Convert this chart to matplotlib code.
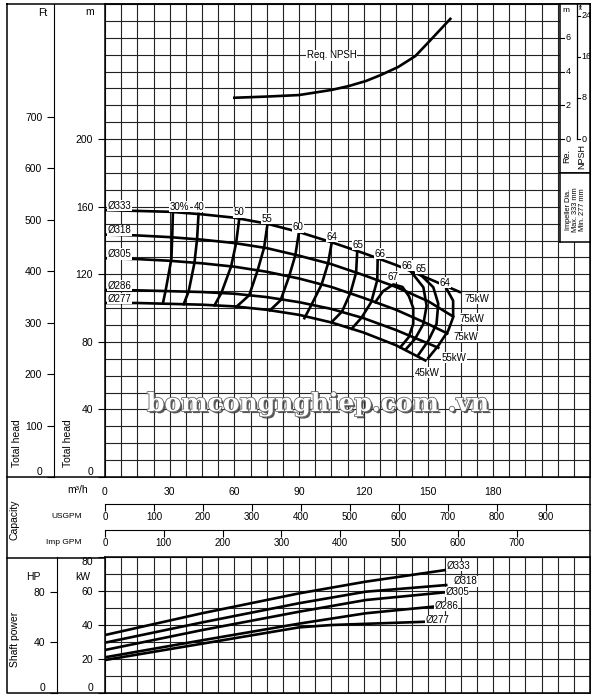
import numpy as np
import matplotlib
matplotlib.use('Agg')
from matplotlib import pyplot as plt
from matplotlib import patheffects as pe

plt.rcParams['font.family'] = ['Liberation Sans', 'DejaVu Sans']

# ---- data ----
qTicks = [0, 30, 60, 90, 120, 150, 180]
headTicks = [0, 40, 80, 120, 160, 200]
ftTicks = [0, 100, 200, 300, 400, 500, 600, 700]
usgpmTicks = [0, 100, 200, 300, 400, 500, 600, 700, 800, 900]
impgpmTicks = [0, 100, 200, 300, 400, 500, 600, 700]
kwTicks = [0, 20, 40, 60, 80]
hpTicks = [0, 40, 80]
npshMTicks = [0, 2, 4, 6]
npshFtTicks = [0, 8, 16, 24]

diaNames = ['Ø333', 'Ø318', 'Ø305', 'Ø286', 'Ø277']

# head curves (m3/h, m)
qH333 = [0, 15, 30, 45, 60, 75, 90, 105, 120, 135, 150, 164.6]
hH333 = [158, 157.5, 157, 155.5, 153.5, 150, 145, 139, 132.5, 125.5, 117.5, 109.5]
qH318 = [0, 15, 30, 45, 60, 75, 90, 105, 120, 135, 150, 161.5]
hH318 = [143.5, 143, 142, 140.5, 138.5, 135.5, 131, 126, 119.5, 112.5, 104, 95]
qH305 = [0, 15, 30, 45, 60, 75, 90, 105, 120, 135, 150, 158.8]
hH305 = [129.5, 129, 128, 126.5, 124.5, 121.5, 117.5, 112.5, 106, 99, 90.5, 85]
qH286 = [0, 15, 30, 45, 60, 75, 90, 105, 120, 135, 150, 154.6]
hH286 = [110.7, 110.5, 110, 109.5, 108.5, 106.5, 103.5, 99.5, 94, 87, 79, 76.5]
qH277 = [0, 15, 30, 45, 60, 75, 90, 105, 120, 135, 148.6]
hH277 = [103, 103, 102.5, 102, 101, 99, 96, 91.5, 85.5, 78, 69]

# efficiency lines (m3/h, m)
qE30 = [31.5, 31.2, 30.8, 28.2, 26.9]
hE30 = [156.8, 142.9, 129.1, 110.9, 103.0]
qE40 = [43.4, 42.7, 41.5, 38.8, 36.5]
hE40 = [155.7, 140.7, 126.8, 109.8, 102.3]
qE50 = [62.3, 60.8, 58.5, 54, 50.8]
hE50 = [153, 138.3, 124.6, 109, 101.6]
qE55 = [75.4, 73.8, 70.8, 66.9, 61]
hE55 = [149.9, 135.7, 122.3, 107.6, 100.8]
qE60 = [90, 88.3, 85.4, 81.5, 76.5]
hE60 = [145, 131.3, 118.7, 104.7, 98.6]
qE64 = [105.2, 103.5, 100.5, 96, 92.5]
hE64 = [139, 126.5, 114, 102.5, 94]
qE65a = [117, 116.5, 114, 110, 105]
hE65a = [133.5, 121, 109.5, 98, 91.5]
qE66a = [126.5, 126.3, 123.5, 119, 114.5]
hE66a = [129.5, 116.5, 103.5, 94.3, 87.8]
qE67 = [125.4, 129, 133.8, 138, 141, 143, 143, 140.8, 137]
hE67 = [103.5, 110, 114, 112.5, 107, 100, 90.6, 82.6, 76.8]
qE66b = [141.7, 147.7, 149.2, 147.7, 143.8, 139.5]
hE66b = [122, 112.3, 101.4, 90.6, 81.7, 75.5]
qE65b = [147, 152.3, 154.6, 153.8, 150, 145.5]
hE65b = [119, 112.3, 102.6, 90.6, 80.7, 72.5]
qE64b = [157.8, 161.5, 161.5, 159.2, 154.6, 150]
hE64b = [113, 104.4, 94.5, 86.6, 77.7, 70.5]

effLabels = ['30%', '40', '50', '55', '60', '64', '65', '66', '67', '66', '65', '64']
effLabQ = [34.6, 43.8, 62.3, 75.2, 89.5, 105.2, 117.2, 127.4, 133.8, 140.3, 146.8, 157.8]
effLabH = [160.1, 160.1, 156.6, 153, 147.7, 142.3, 137.6, 132.3, 118.6, 125.1, 123.4, 115.1]

motorLabels = ['75kW', '75kW', '75kW', '55kW', '45kW']
motorLabQ = [166.6, 164.3, 161.5, 156, 143.5]
motorLabH = [105.6, 93.7, 83, 70.6, 61.7]

# required NPSH (m3/h, m)
qNpsh = [60, 75, 90, 105, 113, 121, 128, 136, 144, 151.5, 160.2]
npsh = [2.45, 2.52, 2.61, 2.91, 3.14, 3.44, 3.8, 4.27, 4.92, 5.93, 7.12]

# shaft power (m3/h, kW)
qP333 = [0, 45, 90, 121, 158.3]
pP333 = [34.1, 46.9, 58.6, 65.5, 72.4]
qP318 = [0, 45, 90, 121, 158.3]
pP318 = [29.6, 41.5, 52.8, 59.6, 63.5]
qP305 = [0, 45, 90, 121, 157.6]
pP305 = [25.3, 37, 47.8, 54.7, 59.2]
qP286 = [0, 45, 90, 121, 152.3]
pP286 = [21, 31, 40.8, 46.9, 50.8]
qP277 = [0, 45, 90, 105, 148.5]
pP277 = [19.4, 29, 38.6, 40, 41.9]

powLabQ = [158.3, 161.8, 157.8, 152.8, 148.6]
powLabKW = [74.8, 65.6, 59.2, 51.3, 43]


W, H = 600., 700.
def pxRect(x0, y0, x1, y1):
  return [x0/W, 1 - y1/H, (x1 - x0)/W, (y1 - y0)/H]

lbox = dict(fc='white', ec='none', pad=0.4)
fs = 7.5
clw = 1.9
gridc = '#222222'

fig = plt.figure(figsize=(6, 7), dpi=100)

bg = fig.add_axes([0, 0, 1, 1])
bg.set_xlim(0, W)
bg.set_ylim(H, 0)
bg.axis('off')
bg.plot([7, 590, 590, 7, 7], [4, 4, 693, 693, 4], color='k', lw=1.1)
bg.plot([7, 590], [477, 477], color='k', lw=1.1)
bg.plot([7, 590], [558, 558], color='k', lw=1.1)

bg.text(43, 13, 'Ft', ha='center', va='center', fontsize=fs)
bg.text(90, 12, 'm', ha='center', va='center', fontsize=fs)
bg.text(17, 443, 'Total head', rotation=90, ha='center', va='center', fontsize=fs)
bg.text(68, 443, 'Total head', rotation=90, ha='center', va='center', fontsize=fs)
bg.text(88, 490, 'm³/h', ha='right', va='center', fontsize=fs)
bg.text(82, 516, 'USGPM', ha='right', va='center', fontsize=6)
bg.text(82, 543, 'Imp GPM', ha='right', va='center', fontsize=6)
bg.text(15, 520, 'Capacity', rotation=90, ha='center', va='center', fontsize=fs)
bg.text(15, 639, 'Shaft power', rotation=90, ha='center', va='center', fontsize=fs)
bg.text(33, 577, 'HP', ha='center', va='center', fontsize=fs)
bg.text(83, 577, 'kW', ha='center', va='center', fontsize=fs)

# ---- head chart ----
ax = fig.add_axes(pxRect(105, 4, 590, 477))
ax.set_xlim(0, 225)
ax.set_ylim(0, 280)
ax.set_xticks(qTicks)
ax.set_xticks(np.arange(0, 225.1, 7.5), minor=True)
ax.set_yticks(headTicks)
ax.set_yticks(np.arange(0, 280.1, 10), minor=True)
ax.grid(which='both', color=gridc, lw=0.8)
ax.set_axisbelow(True)
ax.tick_params(axis='x', which='major', length=0, pad=7, labelsize=fs)
ax.tick_params(axis='y', which='major', length=5, width=0.8, labelsize=fs)
ax.tick_params(which='minor', length=0)
for s in ax.spines.values():
  s.set_linewidth(1.1)
ax.get_yticklabels()[0].set_verticalalignment('bottom')

secFt = ax.secondary_yaxis((54 - 105)/485., functions=(lambda m: m*3.2808, lambda f: f/3.2808))
secFt.set_yticks(ftTicks)
secFt.tick_params(length=5, width=0.8, labelsize=fs)
secFt.get_yticklabels()[0].set_verticalalignment('bottom')

secUs = ax.secondary_xaxis(-27/473., functions=(lambda q: q*4.4029, lambda g: g/4.4029))
secUs.set_xticks(usgpmTicks)
secUs.tick_params(length=5, width=0.8, pad=1, labelsize=7)
secImp = ax.secondary_xaxis(-53/473., functions=(lambda q: q*3.6662, lambda g: g/3.6662))
secImp.set_xticks(impgpmTicks)
secImp.tick_params(length=5, width=0.8, pad=1, labelsize=7)

headCurves = [(qH333, hH333), (qH318, hH318), (qH305, hH305), (qH286, hH286), (qH277, hH277)]
for q, h in headCurves:
  ax.plot(q, h, color='k', lw=clw, zorder=3)
for nm, (q, h) in zip(diaNames, headCurves):
  ax.text(1.4, h[0] + 2.5, nm, fontsize=7, ha='left', va='center', bbox=lbox, zorder=4)

effCurves = [(qE30, hE30), (qE40, hE40), (qE50, hE50), (qE55, hE55), (qE60, hE60), (qE64, hE64),
             (qE65a, hE65a), (qE66a, hE66a), (qE67, hE67), (qE66b, hE66b), (qE65b, hE65b), (qE64b, hE64b)]
for q, h in effCurves:
  ax.plot(q, h, color='k', lw=clw, zorder=3)
for lb, q, h in zip(effLabels, effLabQ, effLabH):
  ax.text(q, h, lb, fontsize=7, ha='center', va='center', bbox=lbox, zorder=4)
for lb, q, h in zip(motorLabels, motorLabQ, motorLabH):
  ax.text(q, h, lb, fontsize=7, ha='left', va='center', bbox=lbox, zorder=4)

axn = ax.twinx()
axn.set_ylim(-20, 8)
axn.axis('off')
axn.plot(qNpsh, npsh, color='k', lw=clw)
axn.text(105.2, 4.97, 'Req. NPSH', fontsize=7, ha='center', va='center', bbox=lbox)

# ---- NPSH scale panel ----
pn = fig.add_axes(pxRect(560, 4, 590, 173))
pn.set_facecolor('white')
pn.set_xlim(0, 1)
pn.set_ylim(-2, 8)
pn.set_xticks([])
pn.set_yticks([])
for s in pn.spines.values():
  s.set_linewidth(1.1)
for m in npshMTicks:
  pn.plot([0, 0.14], [m, m], color='k', lw=0.8)
  pn.text(0.2, m, str(m), fontsize=6.5, ha='left', va='center')
pn.plot([0.55, 0.55], [0, 8], color='k', lw=0.9)
for f in npshFtTicks:
  pn.plot([0.55, 0.68], [f*0.3048, f*0.3048], color='k', lw=0.8)
  pn.text(0.72, f*0.3048, str(f), fontsize=6.5, ha='left', va='center')
pn.text(0.2, 0.96, 'm', transform=pn.transAxes, fontsize=6, ha='center', va='center')
pn.text(0.7, 0.975, 'ft', transform=pn.transAxes, fontsize=5, ha='center', va='center')
pn.text(0.22, 0.1, 'Re.', transform=pn.transAxes, rotation=90, fontsize=6.5, ha='center', va='center')
pn.text(0.72, 0.1, 'NPSH', transform=pn.transAxes, rotation=90, fontsize=6.5, ha='center', va='center')

pi = fig.add_axes(pxRect(560, 173, 590, 242))
pi.set_facecolor('white')
pi.set_xticks([])
pi.set_yticks([])
for s in pi.spines.values():
  s.set_linewidth(1.1)
pi.text(0.52, 0.47, 'Impeller Dia.\nMax. 333 mm\nMin. 277 mm', transform=pi.transAxes, rotation=90,
        fontsize=5.3, ha='center', va='center', linespacing=1.05)

# ---- shaft power chart ----
ap = fig.add_axes(pxRect(105, 557, 590, 693))
ap.set_xlim(0, 225)
ap.set_ylim(0, 80)
ap.set_xticks(np.arange(0, 225.1, 7.5))
ap.set_yticks(kwTicks)
ap.set_yticks(np.arange(0, 80.1, 10), minor=True)
ap.grid(which='both', color=gridc, lw=0.8)
ap.set_axisbelow(True)
ap.tick_params(axis='x', length=0, labelbottom=False)
ap.tick_params(axis='y', which='major', length=5, width=0.8, labelsize=fs)
ap.tick_params(which='minor', length=0)
for s in ap.spines.values():
  s.set_linewidth(1.1)
ylb = ap.get_yticklabels()
ylb[0].set_verticalalignment('bottom')
ylb[-1].set_verticalalignment('top')

secHp = ap.secondary_yaxis((57 - 105)/485., functions=(lambda k: k/0.7457, lambda hp: hp*0.7457))
secHp.set_yticks(hpTicks)
secHp.tick_params(length=5, width=0.8, labelsize=fs)
secHp.get_yticklabels()[0].set_verticalalignment('bottom')

powCurves = [(qP333, pP333), (qP318, pP318), (qP305, pP305), (qP286, pP286), (qP277, pP277)]
for q, p in powCurves:
  ap.plot(q, p, color='k', lw=clw, zorder=3)
for nm, q, p in zip(diaNames, powLabQ, powLabKW):
  ap.text(q, p, nm, fontsize=7, ha='left', va='center', bbox=dict(fc='white', ec='none', pad=0.1), zorder=4)

# watermark
fig.text(318/W, 1 - 404/H, 'bomcongnghiep.com .vn', ha='center', va='center', fontsize=18,
         family='DejaVu Serif', weight='bold', color='white',
         path_effects=[pe.withSimplePatchShadow(offset=(1.5, -1.5), shadow_rgbFace='#444444', alpha=0.9),
                       pe.withStroke(linewidth=1.2, foreground='#666666')])

fig.savefig('out.png', dpi=100)
